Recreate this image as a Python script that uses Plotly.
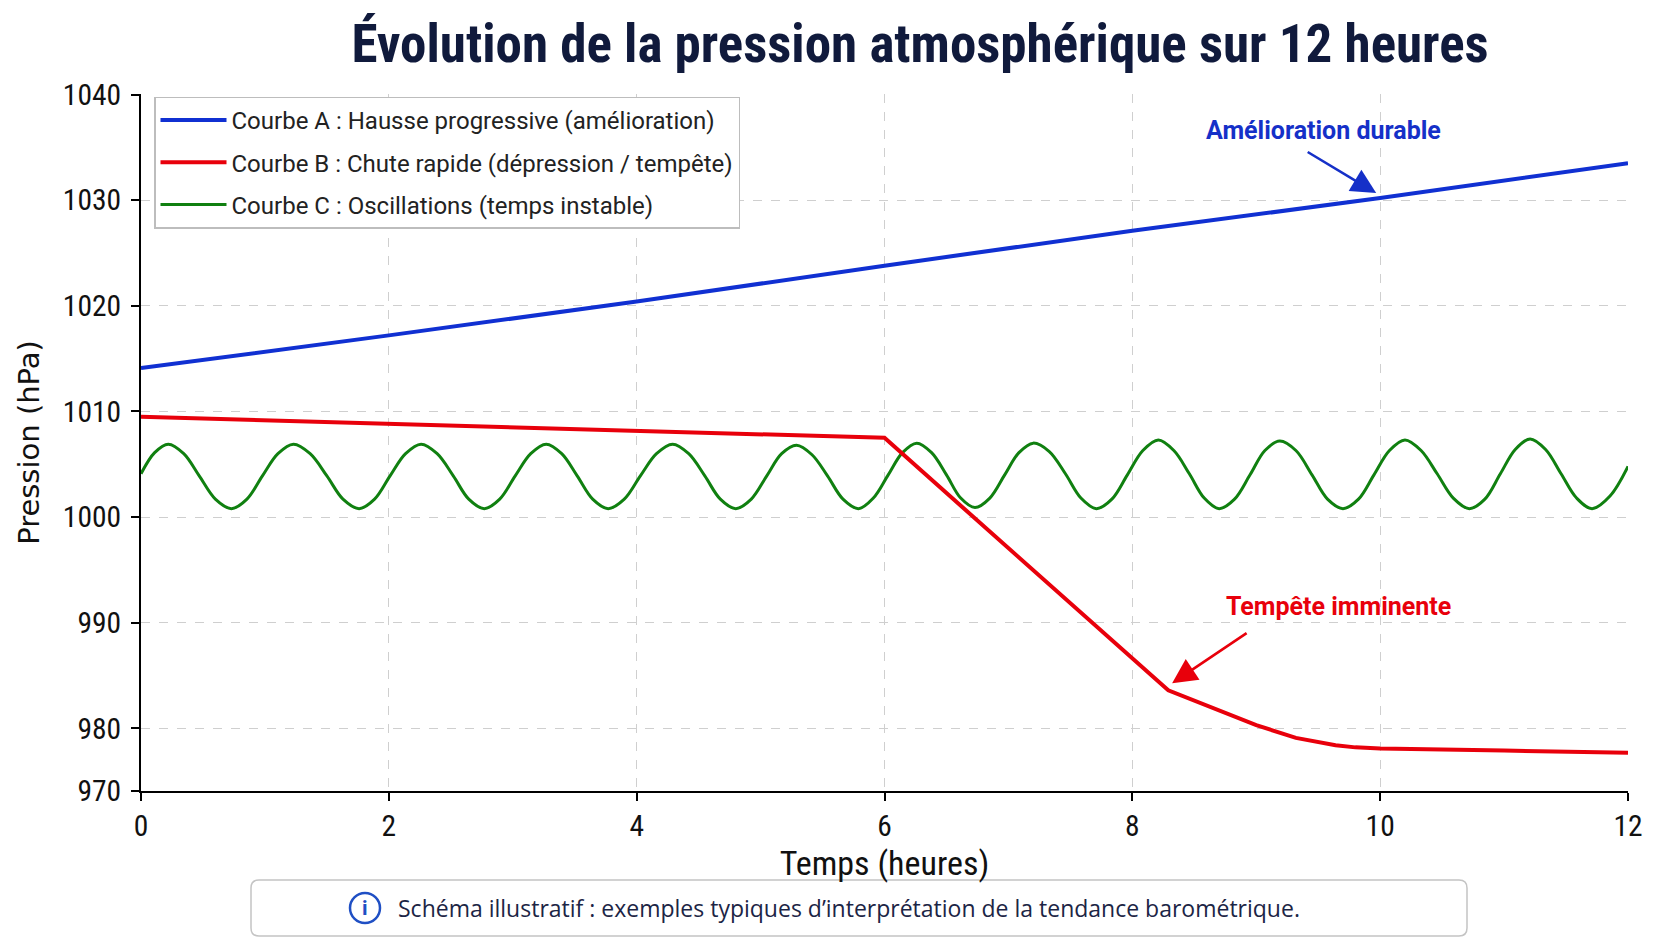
import plotly.graph_objects as go

# ---------------- data ----------------
t_A = [0, 2, 4, 6, 8, 10, 12]
p_A = [1014.1, 1017.2, 1020.4, 1023.8, 1027.1, 1030.2, 1033.5]

t_B = [0, 6.0, 8.29, 9.0, 9.32, 9.5, 9.64, 9.8, 10.0, 11.0, 12.0]
p_B = [1009.5, 1007.5, 983.6, 980.3, 979.1, 978.7, 978.4, 978.2, 978.1, 977.9, 977.7]

t_C = [0.00, 0.11, 0.22, 0.345, 0.47, 0.60, 0.73, 0.855, 0.98, 1.105, 1.23, 1.365,
       1.50, 1.63, 1.76, 1.885, 2.01, 2.135, 2.26, 2.39, 2.52, 2.645, 2.77, 2.895,
       3.02, 3.145, 3.27, 3.395, 3.52, 3.645, 3.77, 3.90, 4.03, 4.16, 4.29, 4.42,
       4.55, 4.675, 4.80, 4.925, 5.05, 5.17, 5.29, 5.415, 5.54, 5.665, 5.79, 5.91,
       6.03, 6.145, 6.26, 6.38, 6.50, 6.615, 6.73, 6.85, 6.97, 7.085, 7.20, 7.33,
       7.46, 7.585, 7.71, 7.835, 7.96, 8.085, 8.21, 8.335, 8.46, 8.58, 8.70, 8.825,
       8.95, 9.07, 9.19, 9.32, 9.45, 9.575, 9.70, 9.825, 9.95, 10.075, 10.20, 10.33,
       10.46, 10.59, 10.72, 10.845, 10.97, 11.09, 11.21, 11.335, 11.46, 11.585, 11.71,
       11.855, 12.00]
p_C = [1004.1, 1006.1, 1006.9, 1006.0, 1003.9, 1001.7, 1000.8, 1001.7, 1003.9, 1006.0,
       1006.9, 1006.0, 1003.9, 1001.7, 1000.8, 1001.7, 1003.9, 1006.0, 1006.9, 1006.0,
       1003.9, 1001.7, 1000.8, 1001.7, 1003.9, 1006.0, 1006.9, 1006.0, 1003.9, 1001.7,
       1000.8, 1001.7, 1003.9, 1006.0, 1006.9, 1006.0, 1003.9, 1001.7, 1000.8, 1001.7,
       1003.9, 1006.0, 1006.8, 1005.9, 1003.9, 1001.7, 1000.8, 1001.8, 1004.0, 1006.1,
       1007.0, 1006.1, 1004.0, 1001.8, 1000.9, 1001.8, 1004.0, 1006.1, 1007.0, 1006.2,
       1004.1, 1001.8, 1000.8, 1001.7, 1004.0, 1006.3, 1007.3, 1006.3, 1004.1, 1001.8,
       1000.8, 1001.7, 1004.0, 1006.3, 1007.2, 1006.3, 1004.0, 1001.7, 1000.8, 1001.7,
       1004.0, 1006.3, 1007.3, 1006.3, 1004.1, 1001.8, 1000.8, 1001.7, 1004.1, 1006.4,
       1007.4, 1006.4, 1004.1, 1001.8, 1000.8, 1002.0, 1004.8]

names = ["Courbe A : Hausse progressive (amélioration)",
         "Courbe B : Chute rapide (dépression / tempête)",
         "Courbe C : Oscillations (temps instable)"]

x_ticks = [0, 2, 4, 6, 8, 10, 12]
y_tickvals = [974.07, 980, 990, 1000, 1010, 1020, 1030, 1040]
y_ticktext = ["970", "980", "990", "1000", "1010", "1020", "1030", "1040"]
y_range = [974.07, 1040.05]

title_text = "Évolution de la pression atmosphérique sur 12 heures"
note_text = "Schéma illustratif : exemples typiques d’interprétation de la tendance barométrique."
label_A = "Amélioration durable"
label_B = "Tempête imminente"

# ---------------- style ----------------
BLUE = "#1030d2"
RED = "#e8000b"
GREEN = "#108010"
ICON = "#1f4fc4"
NARROW = "Liberation Sans Narrow, Roboto Condensed, DejaVu Sans Condensed, Roboto, sans-serif"
REG = "Roboto, Liberation Sans, sans-serif"

W, H = 1672, 941
ML, MR, MT, MB = 133, 52, 86, 158
PW, PH = W - ML - MR, H - MT - MB


def px(x):
    return (x - ML) / PW


def py(y):
    return (H - MB - y) / PH


fig = go.Figure()
fig.add_trace(go.Scatter(x=t_A, y=p_A, mode="lines", name=names[0],
                         line=dict(color=BLUE, width=4), legendgroup="a", legendrank=1))
fig.add_trace(go.Scatter(x=t_C, y=p_C, mode="lines", name=names[2],
                         line=dict(color=GREEN, width=3, shape="spline", smoothing=1),
                         legendgroup="c", legendrank=3))
fig.add_trace(go.Scatter(x=t_B, y=p_B, mode="lines", name=names[1],
                         line=dict(color=RED, width=4), legendgroup="b", legendrank=2))

# note box (rounded rectangle)
xl, xr = px(243), px(1459)
yt, yb = py(872), py(928)
rx, ry = 8 / PW, 8 / PH
path = (f"M {xl+rx},{yb} L {xr-rx},{yb} Q {xr},{yb} {xr},{yb+ry} L {xr},{yt-ry} "
        f"Q {xr},{yt} {xr-rx},{yt} L {xl+rx},{yt} Q {xl},{yt} {xl},{yt-ry} "
        f"L {xl},{yb+ry} Q {xl},{yb} {xl+rx},{yb} Z")
shapes = [
    dict(type="path", xref="paper", yref="paper", path=path,
         line=dict(color="#c4c4c4", width=1.5), fillcolor="white", layer="above"),
    dict(type="circle", xref="paper", yref="paper",
         x0=px(342), x1=px(372), y0=py(915), y1=py(885),
         line=dict(color=ICON, width=2.5), fillcolor="white", layer="above"),
]

annotations = [
    dict(text=label_A, x=9.545, y=1036.58, xref="x", yref="y",
         showarrow=False, font=dict(family=REG, size=25, color="#1530c8", weight="bold")),
    dict(text="", x=9.968, y=1030.67, xref="x", yref="y", showarrow=True,
         ax=-70, ay=-42, arrowhead=2, arrowsize=1.9, arrowwidth=2.6, arrowcolor="#1530c8"),
    dict(text=label_B, x=9.667, y=991.56, xref="x", yref="y",
         showarrow=False, font=dict(family=REG, size=25, color=RED, weight="bold")),
    dict(text="", x=8.321, y=984.28, xref="x", yref="y", showarrow=True,
         ax=76, ay=-51, arrowhead=2, arrowsize=1.9, arrowwidth=2.6, arrowcolor=RED),
    dict(text="i", x=px(357), y=py(900), xref="paper", yref="paper", showarrow=False,
         xanchor="center", yanchor="middle",
         font=dict(family=REG, size=21, color=ICON, weight="bold")),
    dict(text=note_text, x=px(388), y=py(900), xref="paper", yref="paper",
         xanchor="left", yanchor="middle", showarrow=False,
         font=dict(family="Open Sans, Noto Sans, sans-serif", size=23, color="#1c2545")),
]

fig.update_layout(
    width=W, height=H,
    margin=dict(l=ML, r=MR, t=MT, b=MB),
    paper_bgcolor="white", plot_bgcolor="white",
    title=dict(text=title_text, x=px(912), xref="paper", xanchor="center",
               y=1 - 35 / H, yref="container", yanchor="middle",
               font=dict(family=NARROW, size=53, color="#101a3c", weight="bold")),
    legend=dict(x=px(146), y=py(88.5), xanchor="left", yanchor="top",
                bgcolor="white", bordercolor="#bdbdbd", borderwidth=1.5,
                font=dict(family=REG, size=24, color="#222222"),
                traceorder="grouped", tracegroupgap=8, itemwidth=66),
    shapes=shapes,
    annotations=annotations,
    showlegend=True,
)

fig.update_xaxes(range=[0, 12], tickvals=x_ticks, showline=True, linecolor="black",
                 linewidth=2, ticks="outside", ticklen=8, tickwidth=1.5, tickcolor="black",
                 showgrid=True, gridcolor="#cfcfcf", griddash="dash", gridwidth=1,
                 zeroline=False, mirror=False,
                 tickfont=dict(family=NARROW, size=29.5, color="#111111"),
                 title=dict(text="Temps (heures)", standoff=0,
                            font=dict(family=NARROW, size=34, color="#111111")))
fig.update_yaxes(range=y_range, tickvals=y_tickvals, ticktext=y_ticktext, showline=True,
                 linecolor="black", linewidth=2, ticks="outside", ticklen=8, tickwidth=1.5,
                 tickcolor="black", showgrid=True, gridcolor="#cfcfcf", griddash="dash",
                 gridwidth=1, zeroline=False, mirror=False, ticklabelstandoff=4,
                 tickfont=dict(family=NARROW, size=29.5, color="#111111"),
                 title=dict(text="Pression (hPa)", standoff=15,
                            font=dict(family="DejaVu Sans", size=29, color="#111111")))

fig.write_html("out.html")
